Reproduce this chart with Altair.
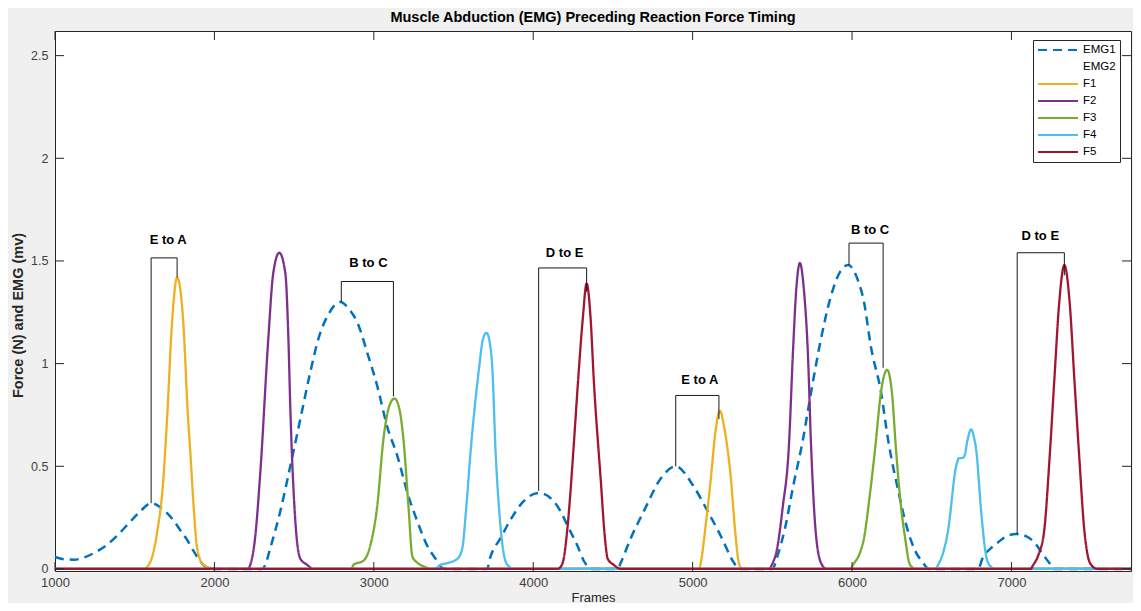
import altair as alt
import pandas as pd

TITLE = "Muscle Abduction (EMG) Preceding Reaction Force Timing"
X_TITLE = "Frames"
Y_TITLE = "Force (N) and EMG (mv)"

SERIES = ["EMG1", "EMG2", "F1", "F2", "F3", "F4", "F5"]
COLORS = ["#0072BD", "transparent", "#EDB120", "#7E2F8E", "#77AC30", "#4DBEEE", "#A2142F"]
DASHES = [[9, 6], [1, 0], [1, 0], [1, 0], [1, 0], [1, 0], [1, 0]]

X_TICKS = [1000, 2000, 3000, 4000, 5000, 6000, 7000]
Y_TICKS = [0, 0.5, 1, 1.5, 2, 2.5]

EMG1_X = [1000, 1060, 1120, 1180, 1250, 1330, 1400, 1460, 1534, 1603, 1678, 1740, 1785, 1830, 1867, 1900, 1930, 1960, 2000,
          2300, 2319, 2350, 2413, 2476, 2539, 2602, 2652, 2715, 2790, 2850, 2897, 2960, 3022, 3085, 3148, 3211, 3274, 3337, 3387, 3420, 3450,
          3710, 3732, 3795, 3858, 3940, 4035, 4128, 4172, 4216, 4279, 4317, 4345, 4370,
          4530, 4549, 4612, 4693, 4800, 4894, 5008, 5095, 5177, 5259, 5290,
          5500, 5535, 5580, 5630, 5692, 5743, 5805, 5868, 5920, 5975, 6030, 6075, 6119, 6182, 6226, 6290, 6345, 6395, 6446, 6480,
          6790, 6823, 6870, 6917, 6970, 7030, 7090, 7143, 7190, 7237, 7270, 7750]
EMG1_Y = [0.058, 0.047, 0.045, 0.055, 0.08, 0.12, 0.17, 0.22, 0.28, 0.32, 0.29, 0.24, 0.19, 0.14, 0.09, 0.05, 0.02, 0.005, 0,
          0, 0.02, 0.10, 0.28, 0.5, 0.73, 0.96, 1.12, 1.24, 1.30, 1.26, 1.20, 1.05, 0.89, 0.69, 0.55, 0.37, 0.23, 0.11, 0.05, 0.01, 0,
          0, 0.06, 0.15, 0.24, 0.33, 0.37, 0.33, 0.28, 0.21, 0.11, 0.04, 0.01, 0,
          0, 0.03, 0.15, 0.28, 0.44, 0.50, 0.40, 0.28, 0.16, 0.03, 0,
          0, 0.07, 0.2, 0.4, 0.63, 0.86, 1.12, 1.33, 1.44, 1.48, 1.42, 1.30, 1.08, 0.86, 0.63, 0.38, 0.2, 0.09, 0.03, 0,
          0, 0.06, 0.1, 0.13, 0.16, 0.17, 0.16, 0.13, 0.08, 0.03, 0, 0]

F1_X = [1000, 1560, 1578, 1610, 1641, 1678, 1703, 1735, 1766, 1804, 1835, 1848, 1870, 1892, 1930, 1980, 2050,
        5040, 5051, 5080, 5114, 5145, 5171, 5200, 5240, 5265, 5290, 5310, 7750]
F1_Y = [0, 0, 0.01, 0.06, 0.18, 0.42, 0.73, 1.21, 1.42, 1.21, 0.73, 0.58, 0.3, 0.1, 0.02, 0.005, 0,
        0, 0.03, 0.2, 0.44, 0.68, 0.77, 0.68, 0.44, 0.2, 0.03, 0, 0]

F2_X = [1000, 2210, 2225, 2255, 2288, 2338, 2369, 2407, 2445, 2465, 2476, 2508, 2539, 2582, 2620,
        5480, 5497, 5530, 5565, 5604, 5629, 5650, 5673, 5698, 5723, 5743, 5770, 5805, 5840, 7750]
F2_Y = [0, 0, 0.02, 0.15, 0.47, 1.12, 1.44, 1.54, 1.44, 1.1, 0.79, 0.23, 0.05, 0.02, 0,
        0, 0.02, 0.1, 0.3, 0.6, 1.05, 1.36, 1.49, 1.36, 1.05, 0.6, 0.2, 0.03, 0, 0]

F3_X = [1000, 2860, 2872, 2935, 2980, 3022, 3060, 3100, 3130, 3160, 3186, 3217, 3242, 3274, 3320, 3360,
        5990, 6006, 6050, 6075, 6110, 6144, 6185, 6220, 6250, 6276, 6305, 6333, 6364, 6400, 7750]
F3_Y = [0, 0, 0.02, 0.04, 0.12, 0.31, 0.63, 0.8, 0.83, 0.78, 0.63, 0.31, 0.06, 0.03, 0.01, 0,
        0, 0.02, 0.08, 0.15, 0.35, 0.58, 0.88, 0.97, 0.86, 0.58, 0.32, 0.15, 0.02, 0, 0]

F4_X = [1000, 3380, 3418, 3470, 3525, 3555, 3580, 3607, 3659, 3685, 3707, 3728, 3744, 3764, 3785, 3808, 3838, 3880,
        6520, 6540, 6603, 6653, 6672, 6690, 6705, 6725, 6747, 6765, 6779, 6810, 6842, 6861, 6900, 7750]
F4_Y = [0, 0, 0.02, 0.03, 0.05, 0.1, 0.3, 0.57, 0.97, 1.12, 1.15, 1.1, 0.97, 0.57, 0.3, 0.11, 0.02, 0,
        0, 0.02, 0.19, 0.5, 0.54, 0.54, 0.55, 0.63, 0.68, 0.64, 0.58, 0.28, 0.06, 0.02, 0, 0]

F5_X = [1000, 4150, 4172, 4191, 4216, 4254, 4279, 4310, 4335, 4360, 4380, 4423, 4450, 4467, 4505, 4550,
        7120, 7137, 7170, 7206, 7240, 7269, 7300, 7332, 7365, 7395, 7425, 7457, 7480, 7500, 7540, 7750]
F5_Y = [0, 0, 0.01, 0.05, 0.21, 0.6, 0.89, 1.21, 1.39, 1.22, 0.92, 0.44, 0.15, 0.05, 0.02, 0,
        0, 0.02, 0.07, 0.19, 0.55, 0.92, 1.3, 1.48, 1.3, 0.92, 0.55, 0.19, 0.06, 0.02, 0, 0]

BR_LABELS = ["E to A", "B to C", "D to E", "E to A", "B to C", "D to E"]
BR_LEFT_X = [1603, 2796, 4034, 4894, 5981, 7036]
BR_LEFT_Y = [0.32, 1.30, 0.38, 0.50, 1.48, 0.17]
BR_RIGHT_X = [1766, 3123, 4335, 5165, 6195, 7332]
BR_RIGHT_Y = [1.42, 0.84, 1.35, 0.73, 0.98, 1.43]
BR_TOP_Y = [1.515, 1.40, 1.466, 0.845, 1.587, 1.54]
BR_TEXT_X = [1710, 2966, 4197, 5045, 6113, 7181]
BR_TEXT_Y = [1.60, 1.49, 1.54, 0.92, 1.65, 1.62]

W, H = 1076, 540
AX = "#262626"
FONT = "Liberation Sans"

xscale = alt.Scale(domain=[1000, 7750], nice=False, zero=False)
yscale = alt.Scale(domain=[-0.01, 2.62], nice=False, zero=False)
xaxis = alt.Axis(values=X_TICKS, format="d", ticks=False, domain=False, grid=False, labelFlush=False,
                 labelFont=FONT, labelFontSize=13, labelColor="#404040", labelPadding=5,
                 titleFont=FONT, titleFontSize=13, titleFontWeight="normal", titleColor=AX, titlePadding=2)
yaxis = alt.Axis(values=Y_TICKS, format="~g", ticks=False, domain=False, grid=False, labelFlush=False,
                 labelFont=FONT, labelFontSize=12.5, labelColor="#404040", labelPadding=7,
                 titleFont=FONT, titleFontSize=14.5, titleFontWeight="bold", titleColor=AX,
                 titleAngle=270, titleX=-37, titleY=284, titleAlign="center", titleBaseline="middle")


def X(field):
    return alt.X(field, scale=xscale, axis=xaxis, title=X_TITLE)


def Y(field):
    return alt.Y(field, scale=yscale, axis=yaxis, title=Y_TITLE)


legend = alt.Legend(title=None, orient="none", legendX=978, legendY=9, symbolType="stroke",
                    symbolSize=1600, symbolStrokeWidth=2, labelFont=FONT, labelFontSize=11.5,
                    labelColor="black", padding=4, strokeColor=AX, fillColor="white",
                    rowPadding=5, clipHeight=12, labelOffset=4, cornerRadius=0)
color_enc = alt.Color("series:N", scale=alt.Scale(domain=SERIES, range=COLORS), legend=legend)
dash_enc = alt.StrokeDash("series:N", scale=alt.Scale(domain=SERIES, range=DASHES), legend=legend)

layers = []
for name, xs, ys in [("EMG1", EMG1_X, EMG1_Y), ("F1", F1_X, F1_Y), ("F2", F2_X, F2_Y),
                     ("F3", F3_X, F3_Y), ("F4", F4_X, F4_Y), ("F5", F5_X, F5_Y)]:
    df = pd.DataFrame({"frame": xs, "value": ys, "series": name})
    layers.append(
        alt.Chart(df).mark_line(strokeWidth=2.5 if name == "EMG1" else 2.3, interpolate="monotone").encode(
            x=X("frame:Q"), y=Y("value:Q"), color=color_enc, strokeDash=dash_enc,
        )
    )

br = pd.DataFrame({"lx": BR_LEFT_X, "ly": BR_LEFT_Y, "rx": BR_RIGHT_X, "ry": BR_RIGHT_Y,
                   "ty": BR_TOP_Y, "label": BR_LABELS, "tx": BR_TEXT_X, "tyy": BR_TEXT_Y})
rule_kw = dict(color="#1a1a1a", strokeWidth=1)
layers.append(alt.Chart(br).mark_rule(**rule_kw).encode(x=X("lx:Q"), y=Y("ly:Q"), y2="ty"))
layers.append(alt.Chart(br).mark_rule(**rule_kw).encode(x=X("lx:Q"), x2="rx", y=Y("ty:Q")))
layers.append(alt.Chart(br).mark_rule(**rule_kw).encode(x=X("rx:Q"), y=Y("ty:Q"), y2="ry"))
layers.append(alt.Chart(br).mark_text(font=FONT, fontWeight="bold", fontSize=13, color="black",
                                      baseline="middle", align="center").encode(
    x=X("tx:Q"), y=Y("tyy:Q"), text="label:N"))

xt = pd.DataFrame({"t": X_TICKS})
yt = pd.DataFrame({"t": Y_TICKS})
TL = 9
layers.append(alt.Chart(xt).mark_rule(color=AX, strokeWidth=1).encode(
    x=X("t:Q"), y=alt.value(H), y2=alt.value(H - TL)))
layers.append(alt.Chart(xt).mark_rule(color=AX, strokeWidth=1).encode(
    x=X("t:Q"), y=alt.value(0), y2=alt.value(TL)))
layers.append(alt.Chart(yt).mark_rule(color=AX, strokeWidth=1).encode(
    y=Y("t:Q"), x=alt.value(0), x2=alt.value(TL)))
layers.append(alt.Chart(yt).mark_rule(color=AX, strokeWidth=1).encode(
    y=Y("t:Q"), x=alt.value(W), x2=alt.value(W - TL)))

chart = alt.layer(*layers).properties(
    width=W, height=H,
    title=alt.TitleParams(text=TITLE, font=FONT, fontSize=14.5, fontWeight="bold", color="black",
                          offset=5, anchor="middle"),
    padding={"left": 47, "top": 23, "right": 2, "bottom": 32},
    autosize=alt.AutoSizeParams(type="none"),
    background="#f0f0f0",
).configure_view(fill="white", stroke=AX, strokeWidth=1)

chart.save("out.html", embed_options={"renderer": "svg", "actions": False})
